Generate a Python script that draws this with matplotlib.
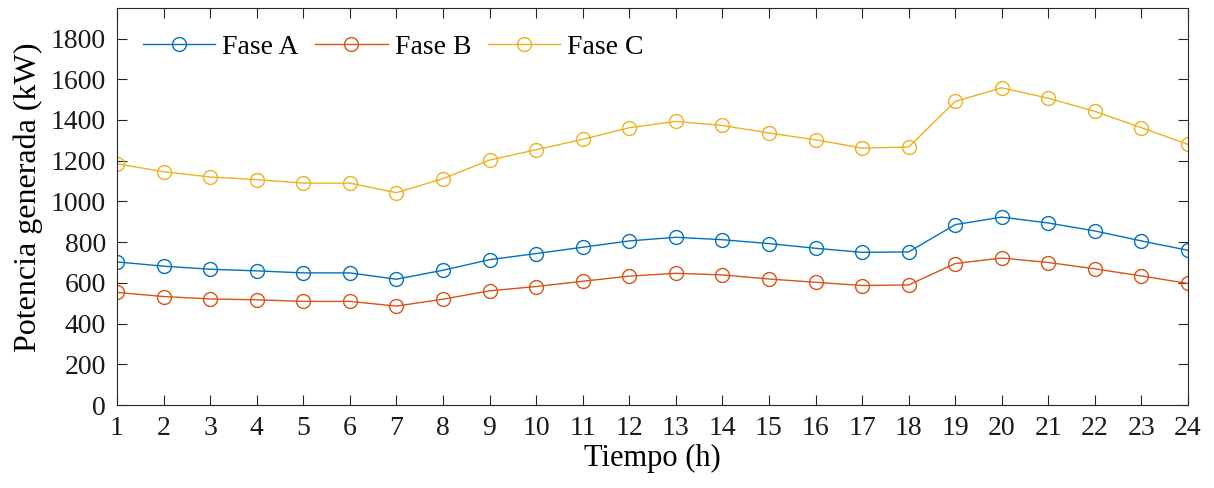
import numpy as np
import matplotlib.pyplot as plt

plt.rcParams['font.family'] = ['Liberation Serif', 'DejaVu Serif']

horas = np.arange(1, 25)
fase_a = [703, 682, 667, 659, 649, 649, 618, 662, 714, 744, 775, 806,
          824, 812, 793, 770, 750, 752, 886, 923, 894, 855, 806, 760]
fase_b = [553, 533, 521, 517, 509, 509, 486, 520, 561, 582, 608, 633,
          647, 639, 619, 603, 587, 590, 695, 722, 700, 669, 634, 597]
fase_c = [1185, 1146, 1120, 1107, 1090, 1090, 1043, 1112, 1203, 1254, 1305, 1362,
          1393, 1373, 1336, 1303, 1262, 1267, 1491, 1558, 1507, 1442, 1362, 1280]

series = [('Fase A', fase_a, '#0072BD'),
          ('Fase B', fase_b, '#D95319'),
          ('Fase C', fase_c, '#EDB120')]

fig = plt.figure(figsize=(12.14, 4.88), dpi=100)
ax = fig.add_axes([0.0964, 0.170, 0.8822, 0.8136])

for name, vals, clr in series:
    ax.plot(horas, vals, '-o', color=clr, lw=1.0, ms=10, mfc='none', mew=1.0, label=name)

ax.set_xlim(1, 24)
ax.set_ylim(0, 1950)
ax.set_xticks(horas)
ax.set_yticks(np.arange(0, 1801, 200))
ax.tick_params(direction='in', top=True, right=True, labelsize=20, length=7.5,
               width=0.8, colors='#262626', pad=8)
ax.tick_params(labelcolor='#1a1a1a')
for s in ax.spines.values():
    s.set_color('#262626')
    s.set_linewidth(0.8)

ax.set_xlabel('Tiempo (h)', fontsize=22, labelpad=2)
ax.set_ylabel('Potencia generada (kW)', fontsize=23)
ax.yaxis.set_label_coords(-0.069, 0.524)

ax.legend(loc='center left', ncol=3, frameon=False, fontsize=20,
          handlelength=2.6, handletextpad=0.25, columnspacing=0.6,
          bbox_to_anchor=(0.0243, 0.9018), borderpad=0, borderaxespad=0)

fig.savefig('out.png', dpi=100)
